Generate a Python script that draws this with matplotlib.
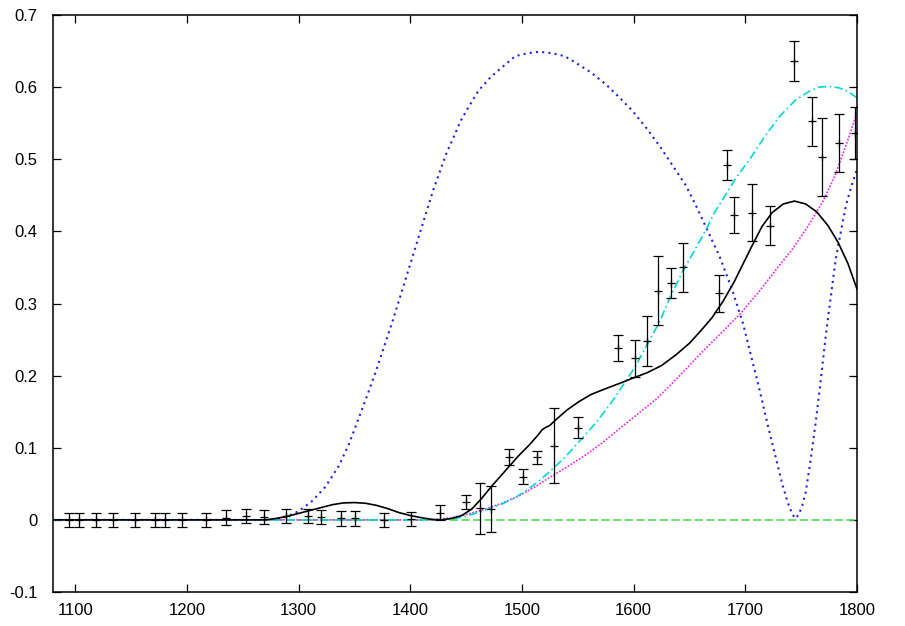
import matplotlib
matplotlib.use("Agg")
import matplotlib.pyplot as plt

plt.rcParams['font.family'] = ['Liberation Sans', 'DejaVu Sans']

# measured points with error bars
data_x = [1094.6, 1103.6, 1118.2, 1134.1, 1153.5, 1171.5, 1180.4, 1195.3, 1217.2, 1234.8,
          1252.7, 1269.2, 1288.5, 1308.0, 1320.0, 1337.8, 1350.5, 1376.5, 1400.2, 1427.0,
          1450, 1462, 1472, 1488, 1501, 1513, 1529, 1550, 1586, 1601,
          1612, 1622, 1633, 1644, 1676, 1684, 1690, 1706, 1722, 1744,
          1760, 1769, 1784, 1798]
data_y = [0, 0, 0, 0, 0, 0, 0, 0, 0, 0.003,
          0.005, 0.004, 0.005, 0.005, 0.004, 0.002, 0.002, 0, 0.001, 0.01,
          0.025, 0.016, 0.015, 0.087, 0.06, 0.087, 0.103, 0.128, 0.238, 0.224,
          0.248, 0.318, 0.328, 0.35, 0.314, 0.492, 0.423, 0.426, 0.408, 0.636,
          0.553, 0.503, 0.523, 0.537]
data_err = [0.01] * 21 + [0.035, 0.032, 0.011, 0.01, 0.009, 0.052, 0.014, 0.018, 0.026,
                          0.034, 0.048, 0.021, 0.034, 0.026, 0.021, 0.025, 0.039, 0.027, 0.028,
                          0.034, 0.054, 0.04, 0.036]

# total fit (black solid)
fit_x = [1080, 1270, 1280, 1290, 1300, 1310, 1320, 1330, 1340, 1350, 1360, 1370, 1380, 1390,
         1400, 1410, 1420, 1428, 1437, 1446, 1455, 1464, 1473, 1485, 1497, 1506, 1514, 1518,
         1521, 1525, 1529, 1540, 1551, 1562, 1575, 1587, 1600, 1612, 1625, 1638, 1650, 1660,
         1670, 1680, 1690, 1698, 1706, 1715, 1724, 1734, 1744, 1754, 1764, 1774, 1783, 1792,
         1800]
fit_y = [0, 0, 0.002, 0.005, 0.009, 0.013, 0.017, 0.021, 0.0235, 0.024, 0.023, 0.02, 0.0155,
         0.01, 0.006, 0.003, 0.0005, 0, 0.002, 0.006, 0.015, 0.03, 0.047, 0.068, 0.089, 0.103,
         0.117, 0.125, 0.128, 0.131, 0.137, 0.152, 0.164, 0.174, 0.182, 0.189, 0.197, 0.204,
         0.214, 0.229, 0.245, 0.262, 0.28, 0.303, 0.33, 0.355, 0.38, 0.407, 0.426, 0.438,
         0.442, 0.438, 0.427, 0.408, 0.385, 0.355, 0.32]

# baseline (green dashed)
base_x = [1080, 1800]
base_y = [0, 0]

# component 1 (blue dotted)
c1_x = [1080, 1272, 1282, 1290, 1300, 1312, 1324, 1336, 1345, 1354, 1362, 1370, 1384, 1396,
        1408, 1420, 1432, 1438, 1445, 1452, 1461, 1472, 1484, 1494, 1505, 1515, 1527, 1538,
        1548, 1562, 1575, 1587, 1599, 1611, 1623, 1635, 1647, 1656, 1665, 1677, 1688, 1698,
        1705, 1712, 1720, 1727, 1733, 1738, 1742, 1745, 1748, 1751, 1754, 1758, 1763, 1768,
        1772, 1777, 1781, 1786, 1790, 1795, 1800]
c1_y = [0, 0, 0.002, 0.005, 0.012, 0.026, 0.046, 0.075, 0.105, 0.142, 0.175, 0.21, 0.275,
        0.335, 0.395, 0.455, 0.507, 0.528, 0.553, 0.572, 0.595, 0.614, 0.63, 0.643, 0.647,
        0.649, 0.647, 0.643, 0.634, 0.62, 0.604, 0.586, 0.567, 0.544, 0.519, 0.491, 0.463,
        0.435, 0.405, 0.365, 0.32, 0.272, 0.228, 0.185, 0.132, 0.088, 0.05, 0.024, 0.008,
        0.002, 0.008, 0.02, 0.038, 0.078, 0.135, 0.2, 0.255, 0.315, 0.362, 0.403, 0.435,
        0.463, 0.486]

# component 2 (magenta dotted)
c2_x = [1080, 1410, 1425, 1437, 1452, 1467, 1482, 1497, 1512, 1527, 1542, 1557, 1572, 1587,
        1603, 1620, 1640, 1659, 1677, 1695, 1712, 1729, 1742, 1756, 1770, 1781, 1793, 1800]
c2_y = [0, 0, 0.001, 0.003, 0.008, 0.015, 0.023, 0.033, 0.046, 0.061, 0.075, 0.09, 0.107,
        0.126, 0.146, 0.167, 0.198, 0.229, 0.257, 0.285, 0.316, 0.35, 0.375, 0.407, 0.443,
        0.48, 0.532, 0.565]

# component 3 (cyan dash-dot)
c3_x = [1080, 1410, 1437, 1450, 1462, 1472, 1482, 1494, 1506, 1516, 1527, 1538, 1548, 1558,
        1569, 1581, 1591, 1602, 1612, 1623, 1633, 1644, 1655, 1665, 1672, 1680, 1692, 1704,
        1718, 1731, 1745, 1758, 1766, 1775, 1784, 1792, 1800]
c3_y = [0, 0, 0.001, 0.005, 0.011, 0.016, 0.022, 0.031, 0.043, 0.055, 0.07, 0.086, 0.103,
        0.12, 0.14, 0.165, 0.188, 0.214, 0.243, 0.274, 0.31, 0.345, 0.375, 0.403, 0.425, 0.445,
        0.475, 0.5, 0.533, 0.56, 0.582, 0.595, 0.6, 0.601, 0.599, 0.594, 0.585]

xticks = [1100, 1200, 1300, 1400, 1500, 1600, 1700, 1800]
yticks = [-0.1, 0, 0.1, 0.2, 0.3, 0.4, 0.5, 0.6, 0.7]
ylabels = ["-0.1", "0", "0.1", "0.2", "0.3", "0.4", "0.5", "0.6", "0.7"]

fig = plt.figure(figsize=(9.05, 6.26), dpi=100)
ax = fig.add_axes([53 / 905, 34 / 626, 804 / 905, 577 / 626])

ax.plot(base_x, base_y, color="#55dd55", lw=1.2, ls=(0, (5, 2)))
ax.plot(c1_x, c1_y, color="#2020ee", lw=1.5, ls=(0, (1, 2)))
ax.plot(c2_x, c2_y, color="#ee22ee", lw=1.2, ls=(0, (1, 1)))
ax.plot(c3_x, c3_y, color="#00d8d8", lw=1.2, ls=(0, (5, 2, 1, 2)))
ax.plot(fit_x, fit_y, color="black", lw=1.2)
ax.errorbar(data_x, data_y, yerr=data_err, fmt="+", color="black", ms=6, mew=0.9,
            elinewidth=0.9, capsize=3.3, capthick=0.9)

ax.set_xlim(1080, 1800)
ax.set_ylim(-0.1, 0.7)
ax.set_xticks(xticks)
ax.set_yticks(yticks)
ax.set_yticklabels(ylabels)
ax.tick_params(direction="in", length=6, width=0.9, top=True, right=True,
               labelsize=12)
ax.tick_params(axis="y", pad=11)
ax.tick_params(axis="x", pad=8)
for s in ax.spines.values():
    s.set_linewidth(1.1)

fig.savefig("out.png", dpi=100)
